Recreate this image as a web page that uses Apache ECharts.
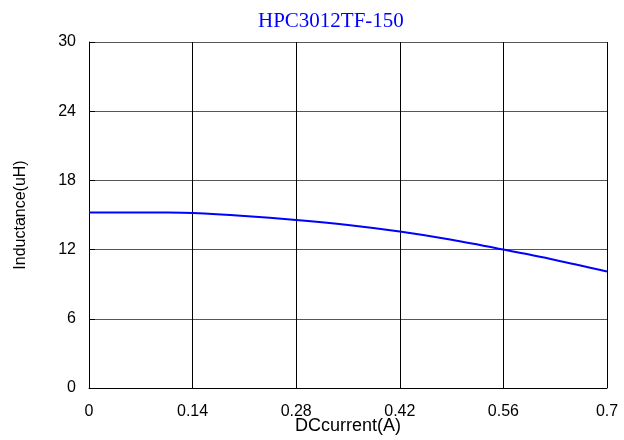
<!DOCTYPE html>
<html><head><meta charset="utf-8">
<script src="https://cdn.jsdelivr.net/npm/echarts@6/dist/echarts.min.js"></script>
<style>html,body{margin:0;padding:0;background:#fff}#c{width:624px;height:440px}</style>
</head><body><div id="c"></div>
<script>
var currents = [0, 0.05, 0.1, 0.14, 0.21, 0.28, 0.35, 0.42, 0.49, 0.56, 0.63, 0.7];
var inductance = [15.22, 15.22, 15.21, 15.17, 14.92, 14.57, 14.13, 13.56, 12.85, 12.0, 11.1, 10.1];
var xTicks = [0, 0.14, 0.28, 0.42, 0.56, 0.7];
var yTicks = [0, 6, 12, 18, 24, 30];
var chart = echarts.init(document.getElementById('c'));
chart.setOption({
  animation: false,
  title: {text: 'HPC3012TF-150', left: 253, top: 6, textStyle: {fontFamily: 'Liberation Serif', fontWeight: 'normal', fontSize: 21, color: '#0000ff'}},
  grid: {left: 89, right: 17, top: 42, bottom: 52, outerBoundsMode: 'none'},
  xAxis: {type: 'value', min: 0, max: 0.7, interval: 0.14,
    name: 'DCcurrent(A)', nameLocation: 'middle', nameGap: 29, nameMoveOverlap: false,
    nameTextStyle: {fontFamily: 'Liberation Sans', fontSize: 18, color: '#000'},
    axisLine: {lineStyle: {color: '#000'}},
    axisTick: {show: false},
    axisLabel: {fontFamily: 'Liberation Sans', fontSize: 16, color: '#000', margin: 16,
      formatter: function (v) { return String(+v.toFixed(2)); }},
    splitLine: {show: true, lineStyle: {color: '#000', width: 1}}
  },
  yAxis: {type: 'value', min: 0, max: 30, interval: 6,
    name: 'Inductance(uH)', nameLocation: 'middle', nameGap: 60, nameRotate: 90,
    nameTextStyle: {fontFamily: 'Liberation Sans', fontSize: 16, color: '#000'},
    axisLine: {lineStyle: {color: '#000'}},
    axisTick: {show: true, inside: true, length: 6, lineStyle: {color: '#000'}},
    axisLabel: {fontFamily: 'Liberation Sans', fontSize: 16, color: '#000', margin: 13},
    splitLine: {show: true, lineStyle: {color: '#555', width: 1}}
  },
  series: [{type: 'line', data: currents.map(function (x, i) { return [x, inductance[i]]; }),
    smooth: 0.3, showSymbol: false, lineStyle: {color: '#0000ff', width: 2}}]
});
</script></body></html>
